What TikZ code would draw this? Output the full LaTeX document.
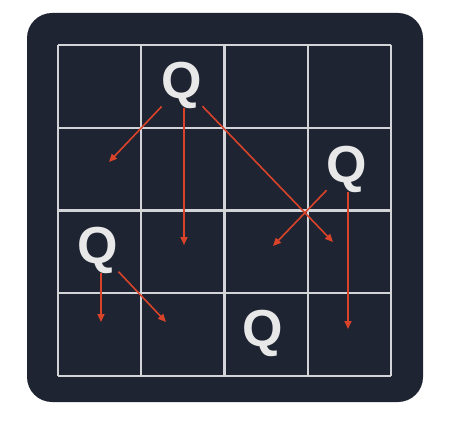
\documentclass[tikz,border=0pt]{standalone}
\usepackage{fontspec}
\setmainfont{Liberation Sans}
\usetikzlibrary{arrows.meta,calc}
\definecolor{bgcol}{HTML}{1E2432}
\definecolor{gridcol}{HTML}{D2D4D8}
\definecolor{arrcol}{HTML}{D8432A}
\definecolor{qcol}{HTML}{E8E8E8}
\begin{document}
\begin{tikzpicture}[x=1pt,y=-1pt,
  queen/.style={text=qcol, font=\fontsize{52}{52}\selectfont\bfseries, inner sep=0pt},
  arr/.style={draw=arrcol, line width=1.6pt, -{Triangle[length=8pt,width=7pt]}},
  gridline/.style={draw=gridcol, line width=2.4pt}]
\useasboundingbox (0,0) rectangle (463,422);
\fill[bgcol, rounded corners=25pt] (27,13) rectangle (423,402);
\foreach \x in {58,141.25,224.5,307.75,391} \draw[gridline] (\x,45) -- (\x,376);
\foreach \y in {45,127.75,210.5,293.25,376} \draw[gridline] (58,\y) -- (391,\y);
\node[queen] (q1) at (182,85) {Q};
\node[queen] (q2) at (347,169) {Q};
\node[queen] (q3) at (98,250) {Q};
\node[queen] (q4) at (263,333) {Q};
\coordinate (a1) at (109,162);
\coordinate (a2) at (184,245);
\coordinate (a3) at (333,242);
\coordinate (b1) at (273,246);
\coordinate (b2) at (348,329);
\coordinate (c1) at (101,322);
\coordinate (c2) at (166,322);
\draw[arr] (q1) -- (a1);
\draw[arr] (q1.south -| a2) -- (a2);
\draw[arr] (q1) -- (a3);
\draw[arr] (q2) -- (b1);
\draw[arr] (q2.south -| b2) -- (b2);
\draw[arr] (q3.south -| c1) -- (c1);
\draw[arr] (q3) -- (c2);
\end{tikzpicture}
\end{document}
